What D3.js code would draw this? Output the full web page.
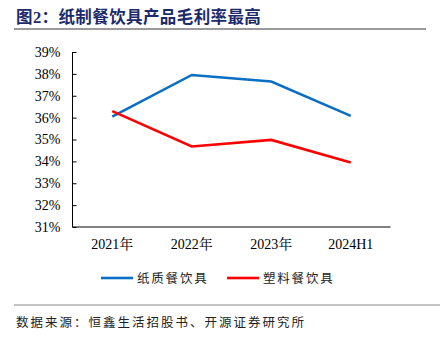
<!DOCTYPE html>
<html><head><meta charset="utf-8">
<script src="https://cdn.jsdelivr.net/npm/d3@7"></script>
<style>
body{margin:0;background:#fff;}
svg{display:block;}
</style></head>
<body>
<svg id="chart" width="440" height="340"></svg>
<script>
const categories = ["2021年", "2022年", "2023年", "2024H1"];
const paperValues = [36.05, 37.95, 37.65, 36.08];
const plasticValues = [36.3, 34.68, 34.98, 33.95];
const seriesNames = ["纸质餐饮具", "塑料餐饮具"];
const seriesColors = ["#0A6FC2", "#FF0000"];
const yTicks = [31, 32, 33, 34, 35, 36, 37, 38, 39];
const titleText = "图2：纸制餐饮具产品毛利率最高";
const sourceText = "数据来源：恒鑫生活招股书、开源证券研究所";

(function () {
const svg = d3.select("#chart");
const serif = "'Liberation Serif','Times New Roman','Noto Serif CJK SC','Noto Sans CJK SC',serif";
const cjk = "'Noto Sans CJK SC',sans-serif";

// Title
svg.append("text").attr("x", 16).attr("y", 23)
  .attr("font-family", "'Liberation Serif','Noto Sans CJK SC',serif")
  .attr("font-weight", "bold").attr("font-size", 16.5).attr("letter-spacing", 0.4)
  .attr("fill", "#1B2A6B").text(titleText);
svg.append("line").attr("x1", 14).attr("x2", 426).attr("y1", 29).attr("y2", 29)
  .attr("stroke", "#9a9a9a").attr("stroke-width", 2);

const pl = 72.5, pr = 390.5, pt = 52, pb = 227;
const x = d3.scaleBand().domain(categories).range([pl, pr]);
const y = d3.scaleLinear().domain([31, 39]).range([pb, pt]);

const yAxis = svg.append("g").attr("transform", `translate(${pl},0)`)
  .call(d3.axisLeft(y).tickValues(yTicks).tickSize(-4).tickPadding(12).tickFormat(d => d + "%"));
yAxis.select(".domain").attr("stroke", "#000").attr("d", `M0,${pt}V${pb}`);
yAxis.selectAll(".tick line").attr("stroke", "#000");
yAxis.selectAll("text").attr("font-family", serif).attr("font-size", 14).attr("fill", "#000");

const xAxis = svg.append("g").attr("transform", `translate(0,${pb})`)
  .call(d3.axisBottom(x).tickSize(0).tickPadding(12));
xAxis.select(".domain").attr("stroke", "#000").attr("d", `M${pl},0H${pr}`);
xAxis.selectAll("text").attr("font-family", serif).attr("font-size", 14).attr("fill", "#000");

const line = d3.line().x((d, i) => x(categories[i]) + x.bandwidth() / 2).y(d => y(d));
[paperValues, plasticValues].forEach((vals, k) => {
  svg.append("path").attr("d", line(vals)).attr("fill", "none")
    .attr("stroke", seriesColors[k]).attr("stroke-width", 2.6)
    .attr("stroke-linejoin", "miter");
});

// Legend
const legendX = [101, 227];
seriesNames.forEach((name, k) => {
  svg.append("line").attr("x1", legendX[k]).attr("x2", legendX[k] + 32)
    .attr("y1", 278).attr("y2", 278).attr("stroke", seriesColors[k]).attr("stroke-width", 2.6);
  svg.append("text").attr("x", legendX[k] + 36).attr("y", 283)
    .attr("font-family", cjk).attr("font-size", 12.5).attr("letter-spacing", 1.8)
    .attr("fill", "#222").text(name);
});

// Source
svg.append("line").attr("x1", 14).attr("x2", 440).attr("y1", 305).attr("y2", 305)
  .attr("stroke", "#888").attr("stroke-width", 1);
svg.append("text").attr("x", 16).attr("y", 327)
  .attr("font-family", cjk).attr("font-size", 12.5).attr("letter-spacing", 2)
  .attr("fill", "#222").text(sourceText);
})();
</script>
</body></html>
